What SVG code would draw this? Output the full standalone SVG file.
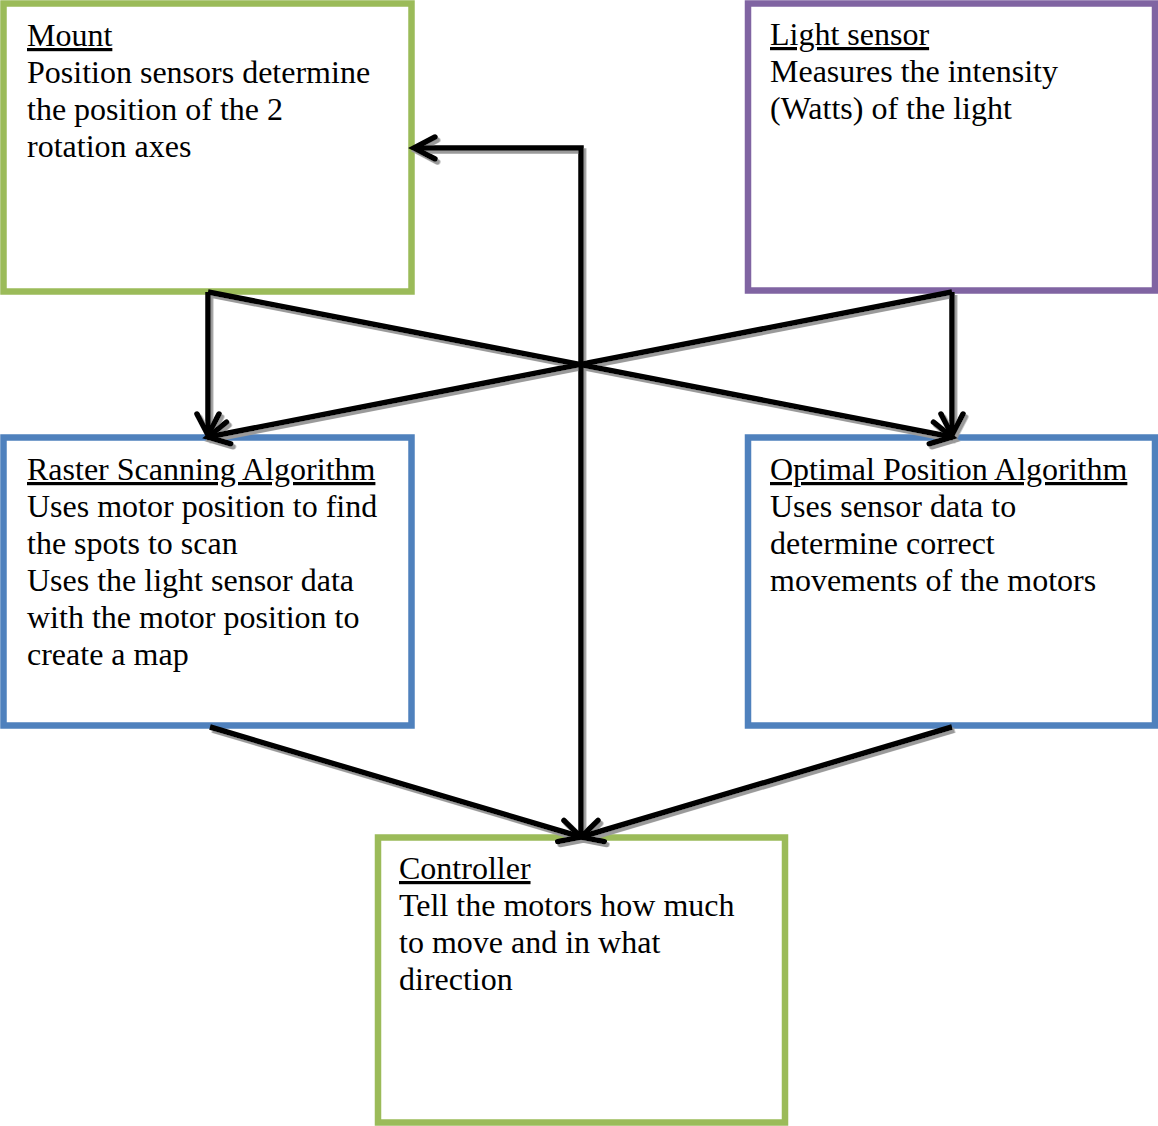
<svg xmlns="http://www.w3.org/2000/svg" width="1158" height="1126" viewBox="0 0 1158 1126">
  <style>
    .box { fill: #ffffff; stroke-width: 6.5; }
    .green { stroke: #9BBB59; }
    .purple { stroke: #8064A2; }
    .blue { stroke: #4F81BD; }
    text { font-family: "Liberation Serif", "Times New Roman", serif; font-size: 32px; fill: #000000; }
    .title { text-decoration: underline; }
    .wire { fill: none; stroke: #000000; stroke-width: 5.5; stroke-linejoin: miter; }
  </style>
  <defs>
    <marker id="head" markerUnits="userSpaceOnUse" viewBox="-26 -16 30 32" markerWidth="30" markerHeight="32" refX="0" refY="0" orient="auto" overflow="visible">
      <path d="M-21,-11 L0,0 L-21,11" fill="none" stroke="#000000" stroke-width="5.5" stroke-linecap="round" stroke-linejoin="miter"/>
    </marker>
    <filter id="shade" filterUnits="userSpaceOnUse" x="0" y="0" width="1158" height="1126">
      <feDropShadow dx="2.5" dy="3" stdDeviation="0.3" flood-color="#9a9a9a" flood-opacity="1"/>
    </filter>
  </defs>

  <!-- nodes -->
  <g id="mount">
    <rect class="box green" x="3.5" y="3.5" width="408" height="288"/>
    <text x="27" y="46" class="title">Mount</text>
    <text x="27" y="83">Position sensors determine</text>
    <text x="27" y="120">the position of the 2</text>
    <text x="27" y="157">rotation axes</text>
  </g>

  <g id="light-sensor">
    <rect class="box purple" x="748" y="3.5" width="407" height="287"/>
    <text x="770" y="45" class="title">Light sensor</text>
    <text x="770" y="82">Measures the intensity</text>
    <text x="770" y="119">(Watts) of the light</text>
  </g>

  <g id="raster-scanning">
    <rect class="box blue" x="3.5" y="437.5" width="408" height="288"/>
    <text x="27" y="480" class="title">Raster Scanning Algorithm</text>
    <text x="27" y="517">Uses motor position to find</text>
    <text x="27" y="554">the spots to scan</text>
    <text x="27" y="591">Uses the light sensor data</text>
    <text x="27" y="628">with the motor position to</text>
    <text x="27" y="665">create a map</text>
  </g>

  <g id="optimal-position">
    <rect class="box blue" x="748" y="437.5" width="407" height="288"/>
    <text x="770" y="480" class="title">Optimal Position Algorithm</text>
    <text x="770" y="517">Uses sensor data to</text>
    <text x="770" y="554">determine correct</text>
    <text x="770" y="591">movements of the motors</text>
  </g>

  <g id="controller">
    <rect class="box green" x="378" y="837.5" width="407" height="285"/>
    <text x="399" y="879" class="title">Controller</text>
    <text x="399" y="916">Tell the motors how much</text>
    <text x="399" y="953">to move and in what</text>
    <text x="399" y="990">direction</text>
  </g>

  <!-- connectors, with a grey drop shadow -->
  <g id="connectors" filter="url(#shade)">
    <path class="wire" d="M208,292 L208,435" marker-end="url(#head)"/>
    <path class="wire" d="M208,292 L952,437" marker-end="url(#head)"/>
    <path class="wire" d="M952,292 L952,435" marker-end="url(#head)"/>
    <path class="wire" d="M952,292 L208,437" marker-end="url(#head)"/>
    <path class="wire" d="M210,727 L581,837" marker-end="url(#head)"/>
    <path class="wire" d="M952,727 L581,837" marker-end="url(#head)"/>
    <path class="wire" d="M581,837 L581,148 L414,148" marker-end="url(#head)"/>
  </g>
</svg>
